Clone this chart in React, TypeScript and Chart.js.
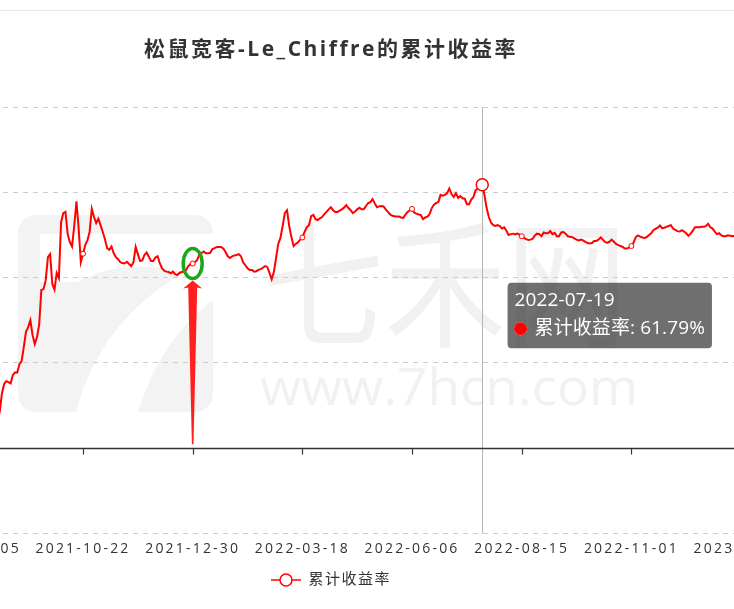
import React, { useEffect, useRef } from 'react';
import { Chart, registerables, Tooltip } from 'chart.js';

Chart.register(...registerables);

// ---------------- data ----------------
const chartTitle = '松鼠宽客-Le_Chiffre的累计收益率';
const seriesName = '累计收益率';
const tickDates = ['2021-08-05', '2021-10-22', '2021-12-30', '2022-03-18', '2022-06-06', '2022-08-15', '2022-11-01', '2023-01-11'];
const daysPerTick = 50; // trading days between two axis labels
const firstDay = 11; // trading-day index of the first value below

// cumulative return (%) per trading day, split by label interval
const segAugOct21 = [
  7.0, 8.4, 12.7, 15.0, 15.7, 15.5, 15.2, 17.1, 17.8, 17.7, 19.7, 20.4, 23.7, 27.3, 28.4, 30.0, 26.5, 24.4, 26.0, 28.9,
  37.1, 37.3, 39.4, 44.8, 45.5, 38.5, 37.2, 41.1, 39.9, 53.0, 55.1, 55.4, 50.2, 48.3, 47.3, 52.1, 57.9, 51.6, 43.6,
];
const segOctDec21 = [
  45.6, 47.6, 48.7, 50.7, 56.1, 54.2, 52.8, 53.8, 52.3, 50.7, 49.0, 46.9, 46.5, 47.3, 45.7, 44.8, 44.3, 43.6, 43.4, 43.3,
  43.7, 43.2, 42.7, 43.6, 47.2, 45.5, 43.9, 44.0, 45.3, 45.9, 44.9, 43.9, 43.9, 44.7, 45.0, 43.4, 42.2, 41.6, 41.4, 41.3,
  41.0, 41.4, 40.8, 40.6, 41.1, 41.3, 41.5, 41.8, 42.7, 43.2,
];
const segDec21Mar22 = [
  43.3, 43.6, 44.1, 45.3, 45.7, 46.1, 45.7, 45.7, 45.8, 46.7, 46.9, 47.2, 47.2, 47.2, 46.8, 46.0, 45.0, 44.6, 45.0, 45.2,
  45.3, 45.5, 45.0, 43.6, 42.9, 42.2, 41.8, 41.8, 41.4, 41.5, 41.8, 42.0, 42.3, 42.7, 42.5, 41.1, 39.6, 41.3, 44.6, 47.9,
  49.3, 52.1, 55.1, 55.8, 52.1, 49.5, 47.4, 47.9, 48.3, 48.9,
];
const segMarJun22 = [
  49.4, 50.7, 51.8, 52.3, 54.4, 54.7, 53.7, 53.5, 53.9, 54.2, 54.9, 55.4, 56.0, 56.5, 55.8, 55.4, 55.4, 55.7, 56.0, 56.4,
  57.0, 56.3, 55.8, 55.1, 55.5, 56.0, 56.4, 56.0, 56.0, 56.8, 57.5, 57.7, 58.4, 57.4, 56.5, 56.7, 56.8, 56.7, 56.0, 55.4,
  54.8, 54.5, 54.4, 54.3, 54.3, 54.1, 54.0, 54.8, 55.4, 55.8,
];
const segJunAug22 = [
  56.1, 55.2, 55.0, 54.8, 54.7, 53.7, 54.1, 54.3, 54.9, 56.3, 57.1, 57.5, 57.7, 59.4, 59.2, 59.4, 59.8, 60.9, 59.6, 58.9,
  59.8, 58.7, 59.1, 58.6, 58.5, 57.2, 57.2, 58.3, 58.9, 60.5, 60.9, 61.3, 61.79, 59.4, 56.3, 54.2, 52.9, 52.3, 52.1, 52.3,
  52.1, 51.5, 51.8, 51.0, 50.0, 50.2, 50.3, 50.1, 50.3, 50.1,
];
const segAugNov22 = [
  49.7, 49.3, 49.0, 48.8, 48.9, 49.1, 49.9, 50.3, 50.2, 49.7, 50.6, 50.4, 50.4, 50.9, 50.2, 50.5, 49.7, 49.7, 50.6, 50.7,
  50.3, 49.7, 49.6, 49.5, 49.2, 48.9, 48.7, 48.9, 48.7, 48.4, 48.1, 48.0, 48.1, 48.6, 48.6, 48.9, 49.4, 48.9, 48.3, 48.2,
  48.4, 48.9, 48.4, 47.9, 47.6, 47.4, 47.2, 46.8, 46.8, 47.1,
];
const segNov22Jan23 = [
  47.4, 48.2, 49.5, 49.9, 49.6, 49.4, 49.3, 49.5, 50.0, 50.4, 51.1, 51.4, 51.7, 52.2, 51.6, 51.7, 51.9, 52.1, 52.3, 51.5,
  51.2, 50.9, 50.8, 51.1, 50.8, 50.4, 49.8, 50.3, 51.0, 51.8, 51.8, 51.8, 51.9, 51.9, 52.1, 52.6, 51.8, 51.5, 50.8, 50.2,
  50.4, 49.9, 49.7, 49.7, 49.9, 49.8, 49.7, 49.8,
];
const cumReturn = [
  ...segAugOct21, ...segOctDec21, ...segDec21Mar22, ...segMarJun22, ...segJunAug22, ...segAugNov22, ...segNov22Jan23,
];

const hoverDate = '2022-07-19';
const hoverDay = 232;
const markedDay = 100; // 2021-12-30, circled in the picture

const yMin = -20;
const yMax = 80;
const yStep = 20;
const xMin = -50.3;
const xMax = 376.4;

// ---------------- layout ----------------
const VIEW_W = 734;
const VIEW_H = 609;
const SHIFT = 138;
const CANVAS_W = 938;
const FONT = '"Open Sans", "Noto Sans CJK SC", sans-serif';
const RED = '#ff0000';

(Tooltip as any).positioners.fixedOffset = function (items: any[]) {
  if (!items.length) return false;
  const el = items[0].element;
  return { x: el.x + 29, y: el.y + 98 };
};

const backdropPlugin = {
  id: 'backdrop',
  beforeDraw(chart: any) {
    const ctx = chart.ctx;
    const ox = SHIFT;
    ctx.save();
    ctx.fillStyle = '#ffffff';
    ctx.fillRect(0, 0, chart.width, chart.height);
    ctx.strokeStyle = '#e8e8e8';
    ctx.lineWidth = 1;
    ctx.beginPath();
    ctx.moveTo(0, 10.5);
    ctx.lineTo(chart.width, 10.5);
    ctx.stroke();
    // watermark logo
    ctx.fillStyle = '#f3f3f3';
    ctx.beginPath();
    (ctx as any).roundRect(ox + 18, 215, 195, 197, 18);
    ctx.fill();
    ctx.fillStyle = '#ffffff';
    ctx.beginPath();
    ctx.moveTo(ox + 40, 234);
    ctx.lineTo(ox + 213, 234);
    ctx.lineTo(ox + 213, 300);
    ctx.quadraticCurveTo(ox + 160, 340, ox + 138, 412);
    ctx.lineTo(ox + 76, 412);
    ctx.quadraticCurveTo(ox + 100, 320, ox + 185, 272);
    ctx.quadraticCurveTo(ox + 120, 258, ox + 78, 282);
    ctx.lineTo(ox + 40, 282);
    ctx.closePath();
    ctx.fill();
    // watermark text
    ctx.fillStyle = '#f1f1f1';
    ctx.textAlign = 'left';
    ctx.textBaseline = 'middle';
    ctx.save();
    ctx.translate(ox + 263, 284);
    ctx.scale(0.88, 1);
    ctx.font = '138px "Noto Sans CJK SC"';
    ctx.fillText('七禾网', 0, 0);
    ctx.restore();
    ctx.font = '52px "Open Sans"';
    const w = ctx.measureText('www.7hcn.com').width;
    ctx.save();
    ctx.translate(ox + 260, 405);
    ctx.scale(378 / w, 1);
    ctx.textBaseline = 'alphabetic';
    ctx.fillText('www.7hcn.com', 0, 0);
    ctx.restore();
    ctx.restore();
  },
};

const axisPlugin = {
  id: 'zeroAxis',
  beforeDatasetsDraw(chart: any) {
    const { ctx, chartArea } = chart;
    const x = chart.scales.x;
    const y = chart.scales.y;
    const y0 = Math.round(y.getPixelForValue(0)) + 0.5;
    ctx.save();
    const hx = Math.round(x.getPixelForValue(hoverDay)) + 0.5;
    ctx.strokeStyle = '#b4b4b4';
    ctx.lineWidth = 1;
    ctx.beginPath();
    ctx.moveTo(hx, chartArea.top);
    ctx.lineTo(hx, chartArea.bottom);
    ctx.stroke();
    ctx.strokeStyle = '#333333';
    ctx.lineWidth = 1.5;
    ctx.beginPath();
    ctx.moveTo(chartArea.left, y0);
    ctx.lineTo(chartArea.right, y0);
    ctx.stroke();
    ctx.lineWidth = 1.2;
    x.ticks.forEach((t: any) => {
      const px = Math.round(x.getPixelForValue(t.value)) + 0.5;
      ctx.beginPath();
      ctx.moveTo(px, y0);
      ctx.lineTo(px, y0 + 6);
      ctx.stroke();
    });
    ctx.restore();
  },
};

const markerPlugin = {
  id: 'marker',
  afterDatasetsDraw(chart: any) {
    const { ctx } = chart;
    const x = chart.scales.x;
    const y = chart.scales.y;
    const px = x.getPixelForValue(markedDay);
    const py = y.getPixelForValue(cumReturn[markedDay - firstDay]);
    const base = y.getPixelForValue(0) - 4;
    const tip = py + 17;
    const headBase = tip + 8;
    ctx.save();
    ctx.fillStyle = '#ff1f1f';
    ctx.beginPath();
    ctx.moveTo(px, tip);
    ctx.lineTo(px + 9.5, headBase);
    ctx.lineTo(px + 4.5, headBase - 1);
    ctx.lineTo(px + 0.8, base);
    ctx.lineTo(px - 0.8, base);
    ctx.lineTo(px - 4.5, headBase - 1);
    ctx.lineTo(px - 9.5, headBase);
    ctx.closePath();
    ctx.fill();
    ctx.strokeStyle = '#1ea51e';
    ctx.lineWidth = 3.5;
    ctx.beginPath();
    ctx.ellipse(px, py, 9.5, 15, 0, 0, Math.PI * 2);
    ctx.stroke();
    ctx.restore();
  },
};

function withSpacing(chart: any, obj: any, method: string, spacing: string) {
  if (!obj || typeof obj[method] !== 'function') return;
  const orig = obj[method];
  obj[method] = function (...args: any[]) {
    const c = chart.ctx;
    const prev = c.letterSpacing;
    c.letterSpacing = spacing;
    try {
      return orig.apply(this, args);
    } finally {
      c.letterSpacing = prev || '0px';
    }
  };
}

export default function App() {
  const ref = useRef<HTMLCanvasElement | null>(null);

  useEffect(() => {
    const canvas = ref.current;
    if (!canvas) return;

    const icon = document.createElement('canvas');
    icon.width = 30;
    icon.height = 16;
    const ic = icon.getContext('2d') as CanvasRenderingContext2D;
    ic.strokeStyle = RED;
    ic.lineWidth = 1.5;
    ic.beginPath();
    ic.moveTo(0, 8);
    ic.lineTo(30, 8);
    ic.stroke();
    ic.fillStyle = '#ffffff';
    ic.beginPath();
    ic.arc(15, 8, 6, 0, Math.PI * 2);
    ic.fill();
    ic.stroke();

    const points = cumReturn.map((v, i) => ({ x: firstDay + i, y: v }));

    const chart = new Chart(canvas, {
      type: 'line',
      data: {
        datasets: [
          {
            label: seriesName,
            data: points,
            borderColor: RED,
            backgroundColor: RED,
            borderWidth: 2,
            tension: 0,
            fill: false,
            pointRadius: (c: any) => (c.raw && c.raw.x % daysPerTick === 0 ? 2.5 : 0),
            pointBackgroundColor: '#ffffff',
            pointBorderColor: RED,
            pointBorderWidth: 1,
            pointHoverRadius: 6,
            pointHoverBorderWidth: 1.5,
            pointHoverBackgroundColor: '#ffffff',
            pointHoverBorderColor: RED,
          } as any,
        ],
      },
      options: {
        responsive: false,
        animation: false,
        devicePixelRatio: 1,
        events: [],
        layout: { padding: { top: 0, bottom: 11.5, left: 0, right: 0 } },
        scales: {
          x: {
            type: 'linear',
            min: xMin,
            max: xMax,
            afterBuildTicks: (axis: any) => {
              axis.ticks = tickDates.map((_, i) => ({ value: i * daysPerTick }));
            },
            grid: { display: false, drawTicks: false },
            border: { display: false },
            ticks: {
              autoSkip: false,
              maxRotation: 0,
              minRotation: 0,
              padding: 7.5,
              color: '#333333',
              font: { family: FONT, size: 14 },
              callback: (_v: any, i: number) => tickDates[i],
            },
          },
          y: {
            type: 'linear',
            min: yMin,
            max: yMax,
            ticks: { display: false, stepSize: yStep },
            grid: { color: '#cccccc', lineWidth: 1, drawTicks: false },
            border: { display: false, dash: [5, 5] },
          },
        },
        plugins: {
          title: {
            display: true,
            text: chartTitle,
            color: '#333333',
            font: { family: FONT, size: 21, weight: 'bold' },
            padding: { top: 37, bottom: 44.8 },
          },
          legend: {
            position: 'bottom',
            labels: {
              usePointStyle: true,
              pointStyle: icon,
              pointStyleWidth: 30,
              color: '#333333',
              font: { family: FONT, size: 15 },
              padding: 7.2,
            },
          },
          tooltip: {
            enabled: true,
            position: 'fixedOffset',
            backgroundColor: 'rgba(50,50,50,0.7)',
            titleColor: '#ffffff',
            bodyColor: '#ffffff',
            titleFont: { family: FONT, size: 19, weight: 'normal' },
            bodyFont: { family: FONT, size: 19 },
            padding: { top: 7, bottom: 8, left: 7, right: 7 },
            titleMarginBottom: 5,
            cornerRadius: 4,
            caretSize: 0,
            caretPadding: 0,
            xAlign: 'left',
            yAlign: 'top',
            displayColors: true,
            usePointStyle: true,
            boxWidth: 12,
            boxHeight: 12,
            boxPadding: 6,
            callbacks: {
              title: (items: any[]) => (items.length && items[0].parsed.x === hoverDay ? hoverDate : ''),
              label: (item: any) => `${seriesName}: ${item.parsed.y.toFixed(2)}%`,
              labelPointStyle: () => ({ pointStyle: 'circle', rotation: 0 }),
              labelColor: () => ({ borderColor: RED, backgroundColor: RED, borderWidth: 0 }),
            },
          } as any,
        },
      } as any,
      plugins: [backdropPlugin, axisPlugin, markerPlugin],
    });

    const c: any = chart;
    withSpacing(chart, c.titleBlock, 'draw', '2.5px');
    withSpacing(chart, c.legend, 'fit', '1.5px');
    withSpacing(chart, c.legend, 'draw', '1.5px');
    withSpacing(chart, c.scales.x, 'draw', '2.2px');
    withSpacing(chart, c.tooltip, 'update', '0.1px');
    withSpacing(chart, c.tooltip, 'draw', '0.1px');

    const idx = hoverDay - firstDay;
    chart.setActiveElements([{ datasetIndex: 0, index: idx }]);
    chart.tooltip?.setActiveElements([{ datasetIndex: 0, index: idx }], { x: 0, y: 0 });
    chart.update();

    return () => chart.destroy();
  }, []);

  return (
    <div
      style={{
        position: 'fixed',
        left: 0,
        top: 0,
        width: VIEW_W,
        height: VIEW_H,
        overflow: 'hidden',
        background: '#ffffff',
      }}
    >
      <canvas
        ref={ref}
        width={CANVAS_W}
        height={VIEW_H}
        style={{ position: 'absolute', left: -SHIFT, top: 0, width: CANVAS_W, height: VIEW_H }}
      />
    </div>
  );
}
